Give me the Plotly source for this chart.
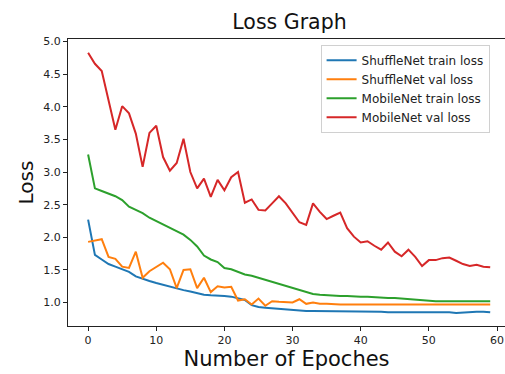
import plotly.graph_objects as go

epochs = list(range(60))

shufflenet_train = [2.27, 1.73, 1.66, 1.59, 1.55, 1.51, 1.47, 1.40, 1.36, 1.33,
                    1.30, 1.27, 1.24, 1.22, 1.19, 1.17, 1.14, 1.12, 1.11, 1.11,
                    1.10, 1.09, 1.07, 1.04, 0.96, 0.93, 0.92, 0.91, 0.90, 0.89,
                    0.88, 0.88, 0.87, 0.87, 0.87, 0.86, 0.86, 0.86, 0.86, 0.86,
                    0.86, 0.86, 0.86, 0.86, 0.85, 0.85, 0.85, 0.86, 0.86, 0.86,
                    0.86, 0.86, 0.86, 0.85, 0.84, 0.85, 0.86, 0.86, 0.86, 0.85]

shufflenet_val = [1.93, 1.95, 1.97, 1.70, 1.67, 1.55, 1.53, 1.78, 1.38, 1.48,
                  1.54, 1.61, 1.51, 1.22, 1.50, 1.51, 1.22, 1.38, 1.16, 1.25,
                  1.23, 1.24, 1.03, 1.05, 0.97, 1.06, 0.95, 1.02, 1.01, 1.00,
                  1.00, 1.05, 0.98, 1.00, 0.98, 0.98, 0.97, 0.97, 0.97, 0.97,
                  0.97, 0.97, 0.97, 0.97, 0.97, 0.97, 0.97, 0.97, 0.97, 0.97,
                  0.97, 0.97, 0.97, 0.97, 0.97, 0.97, 0.97, 0.97, 0.97, 0.97]

mobilenet_train = [3.27, 2.75, 2.71, 2.67, 2.63, 2.57, 2.47, 2.42, 2.37, 2.30,
                   2.25, 2.19, 2.14, 2.09, 2.04, 1.96, 1.86, 1.72, 1.66, 1.62,
                   1.53, 1.51, 1.47, 1.43, 1.41, 1.38, 1.35, 1.31, 1.29, 1.26,
                   1.23, 1.20, 1.16, 1.13, 1.12, 1.11, 1.11, 1.10, 1.10, 1.09,
                   1.09, 1.09, 1.08, 1.08, 1.07, 1.07, 1.06, 1.05, 1.04, 1.03,
                   1.02, 1.02, 1.02, 1.02, 1.02, 1.02, 1.02, 1.02, 1.02, 1.02]

mobilenet_val = [4.83, 4.66, 4.55, 4.10, 3.65, 4.01, 3.90, 3.59, 3.08, 3.60,
                 3.71, 3.23, 3.02, 3.14, 3.51, 3.00, 2.75, 2.90, 2.62, 2.88,
                 2.72, 2.92, 3.00, 2.53, 2.58, 2.42, 2.41, 2.52, 2.63, 2.52,
                 2.37, 2.23, 2.19, 2.52, 2.39, 2.28, 2.33, 2.38, 2.14, 2.01,
                 1.92, 1.94, 1.87, 1.81, 1.92, 1.78, 1.71, 1.81, 1.70, 1.56,
                 1.65, 1.65, 1.68, 1.69, 1.64, 1.59, 1.56, 1.58, 1.55, 1.54]

series = [
    ("ShuffleNet train loss", shufflenet_train, "#1f77b4"),
    ("ShuffleNet val loss", shufflenet_val, "#ff7f0e"),
    ("MobileNet train loss", mobilenet_train, "#2ca02c"),
    ("MobileNet val loss", mobilenet_val, "#d62728"),
]

x_ticks = [0, 10, 20, 30, 40, 50, 60]
y_ticks = [1.0, 1.5, 2.0, 2.5, 3.0, 3.5, 4.0, 4.5, 5.0]

fig = go.Figure()
for name, vals, color in series:
    fig.add_trace(go.Scatter(x=epochs, y=vals, mode="lines", name=name,
                             line=dict(color=color, width=2)))

font = "DejaVu Sans, sans-serif"
fig.update_layout(
    width=505, height=374,
    margin=dict(l=68, r=0, t=39, b=48),
    paper_bgcolor="white", plot_bgcolor="white",
    font=dict(family=font, color="#222", size=11),
    title=dict(text="Loss Graph", x=289.5 / 505, xanchor="center",
               y=1 - 22 / 374, yanchor="middle",
               font=dict(size=20.5, family=font, color="#111")),
    legend=dict(x=0.578, y=0.98, xanchor="left", yanchor="top",
                bgcolor="rgba(255,255,255,0.8)", bordercolor="#d0d0d0", borderwidth=1,
                font=dict(size=12, family=font, color="#222"),
                tracegroupgap=0, itemwidth=30),
    showlegend=True,
)
fig.update_xaxes(range=[-2.95, 61.17], tickvals=x_ticks, ticks="outside", ticklen=4,
                 tickcolor="#222", showline=True, linecolor="#222", linewidth=1,
                 mirror=True, showgrid=False, zeroline=False,
                 title=dict(text="Number of Epoches", font=dict(size=21, family=font, color="#111"),
                            standoff=2))
fig.update_yaxes(range=[0.64, 5.04], tickvals=y_ticks, tickformat=".1f", ticks="outside",
                 ticklen=4, tickcolor="#222", showline=True, linecolor="#222", linewidth=1,
                 showgrid=False, zeroline=False,
                 title=dict(text="Loss", font=dict(size=20, family=font, color="#111"),
                            standoff=4))

fig.write_html("out.html")
